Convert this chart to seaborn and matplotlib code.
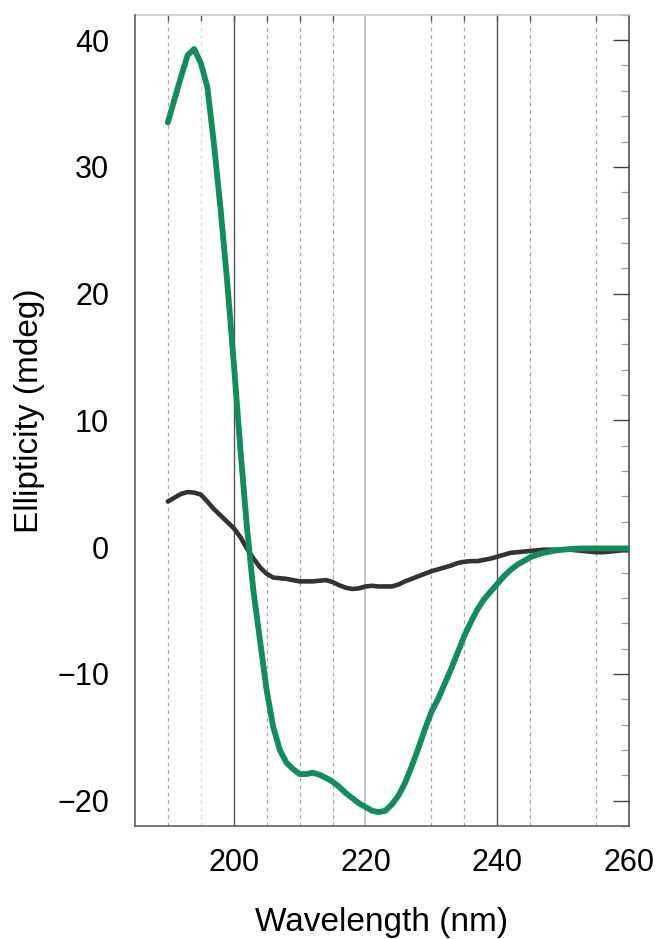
import matplotlib
matplotlib.use("Agg")
import matplotlib.pyplot as plt
from matplotlib.ticker import FixedLocator, MultipleLocator
import numpy as np
import pandas as pd
import seaborn as sns

# CD spectra, 190-260 nm in 1 nm steps
wavelength = list(range(190, 261))

ellipticity_green = [
    33.5, 35.3, 37.1, 38.8, 39.3, 38.2, 36.3, 31.8, 26.7, 21.0,   # 190-199
    14.6, 7.8, 1.6, -3.5, -7.4, -11.3, -14.2, -16.0, -17.0, -17.5,  # 200-209
    -17.9, -17.9, -17.8, -17.95, -18.2, -18.5, -18.9, -19.4, -19.8, -20.2,  # 210-219
    -20.5, -20.8, -20.9, -20.8, -20.3, -19.6, -18.6, -17.3, -15.9, -14.4,  # 220-229
    -13.0, -12.0, -10.8, -9.6, -8.3, -7.0, -5.9, -4.9, -4.1, -3.5,  # 230-239
    -2.9, -2.3, -1.8, -1.4, -1.1, -0.8, -0.6, -0.45, -0.35, -0.25,  # 240-249
    -0.2, -0.15, -0.12, -0.1, -0.1, -0.1, -0.1, -0.1, -0.1, -0.1,  # 250-259
    -0.1,                                                            # 260
]

ellipticity_black = [
    3.6, 3.9, 4.2, 4.35, 4.3, 4.15, 3.6, 3.0, 2.5, 2.0,             # 190-199
    1.5, 0.8, -0.1, -0.9, -1.6, -2.1, -2.4, -2.45, -2.5, -2.6,      # 200-209
    -2.7, -2.7, -2.7, -2.65, -2.6, -2.75, -3.0, -3.2, -3.3, -3.25,  # 210-219
    -3.1, -3.05, -3.1, -3.1, -3.1, -2.95, -2.7, -2.5, -2.3, -2.1,   # 220-229
    -1.9, -1.75, -1.6, -1.45, -1.25, -1.15, -1.1, -1.1, -1.0, -0.9, # 230-239
    -0.75, -0.6, -0.45, -0.4, -0.35, -0.3, -0.25, -0.2, -0.2, -0.2, # 240-249
    -0.2, -0.2, -0.25, -0.3, -0.35, -0.4, -0.4, -0.35, -0.3, -0.25, # 250-259
    -0.25,                                                          # 260
]

x_major_ticks = [200, 220, 240, 260]
x_minor_ticks = [185, 190, 195, 205, 210, 215, 230, 235, 245, 255]
x_top_ticks = [190, 195, 200, 205, 210, 215, 230, 235, 240, 245, 255]
y_major_ticks = [-20, -10, 0, 10, 20, 30, 40]

dashed_grid = [190, 205, 210, 215, 230, 235, 245, 255]
faint_grid = [195]
dark_grid = [200, 240]
light_grid = [220]

df = pd.DataFrame({
    "Wavelength": wavelength * 2,
    "Ellipticity": ellipticity_black + ellipticity_green,
    "Sample": ["black"] * len(wavelength) + ["green"] * len(wavelength),
})

sns.set_theme(style="white")
plt.rcParams["font.family"] = ["Liberation Sans", "DejaVu Sans"]

fig = plt.figure(figsize=(6.58, 9.39), dpi=100)
ax = fig.add_axes([0.205, 0.1203, 0.751, 0.864])

# vertical reference lines
for v in dashed_grid:
    ax.axvline(v, color="#a8a8a8", lw=0.9, ls=(0, (3, 3)), zorder=0)
for v in faint_grid:
    ax.axvline(v, color="#dcdcdc", lw=0.9, ls=(0, (3, 3)), zorder=0)
for v in dark_grid:
    ax.axvline(v, color="#555555", lw=1.0, zorder=0)
for v in light_grid:
    ax.axvline(v, color="#c0c0c0", lw=1.3, zorder=0)

sns.lineplot(data=df[df["Sample"] == "black"], x="Wavelength", y="Ellipticity",
             color="#333333", linewidth=3.3, ax=ax, legend=False, zorder=3)
sns.lineplot(data=df[df["Sample"] == "green"], x="Wavelength", y="Ellipticity",
             color="#0f8e5c", linewidth=4.2, ax=ax, legend=False, zorder=4)

ax.set_xlim(185, 260)
ax.set_ylim(-22, 42)

ax.xaxis.set_major_locator(FixedLocator(x_major_ticks))
ax.xaxis.set_minor_locator(FixedLocator(x_minor_ticks))
ax.yaxis.set_major_locator(FixedLocator(y_major_ticks))
ax.yaxis.set_minor_locator(MultipleLocator(2))

ax.tick_params(axis="both", which="major", direction="out", length=11.5,
               width=1.0, color="#444444", labelsize=22, labelcolor="black")
ax.tick_params(axis="x", which="major", pad=4)
ax.tick_params(axis="y", which="major", pad=7)
ax.tick_params(axis="both", which="minor", direction="out", length=5.8,
               width=0.9, color="#a0a0a0")
ax.tick_params(axis="x", which="minor", color="#707070")

for side in ("left", "bottom"):
    ax.spines[side].set_color("#555555")
    ax.spines[side].set_linewidth(1.1)
ax.spines["top"].set_visible(False)
ax.spines["right"].set_visible(False)

# mirrored ticks pointing inward on the right and top edges
sec_y = ax.secondary_yaxis("right")
sec_y.yaxis.set_major_locator(FixedLocator(y_major_ticks))
sec_y.yaxis.set_minor_locator(MultipleLocator(2))
sec_y.tick_params(which="major", direction="in", length=11.5, width=1.0,
                  color="#444444", labelright=False)
sec_y.tick_params(which="minor", direction="in", length=5.8, width=0.9,
                  color="#a0a0a0", labelright=False)
sec_y.spines["right"].set_color("#444444")
sec_y.spines["right"].set_linewidth(1.1)

sec_x = ax.secondary_xaxis("top")
sec_x.xaxis.set_major_locator(FixedLocator(x_top_ticks))
sec_x.xaxis.set_minor_locator(FixedLocator([]))
sec_x.tick_params(which="major", direction="in", length=4, width=1.0,
                  color="#555555", labeltop=False)
sec_x.spines["top"].set_color("#c8c8c8")
sec_x.spines["top"].set_linewidth(1.1)

ax.set_xlabel("Wavelength (nm)", fontsize=24, color="black", va="baseline")
ax.xaxis.set_label_coords(0.5, -0.1295)
ax.set_ylabel("Ellipticity (mdeg)", fontsize=24, color="black")
ax.yaxis.set_label_coords(-0.181, 0.512)

fig.savefig("out.png", dpi=100, facecolor="white")
